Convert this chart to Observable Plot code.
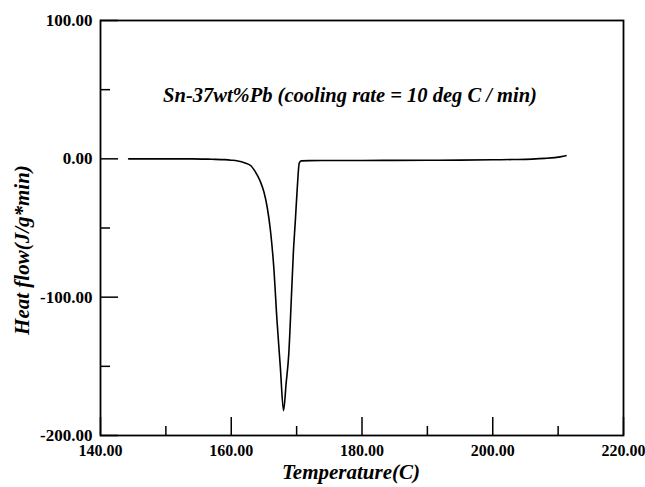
<!DOCTYPE html>
<html>
<head>
<meta charset="utf-8">
<script src="https://cdn.jsdelivr.net/npm/d3@7"></script>
<script src="https://cdn.jsdelivr.net/npm/@observablehq/plot@0.6"></script>
<style>
  html, body { margin: 0; padding: 0; background: #fff; }
  svg text { font-family: "Liberation Serif", serif !important; }
</style>
</head>
<body>
<div id="chart"></div>
<script>
// Temperature (C) and heat flow (J/g*min)
const temperature = [144.3, 146, 150, 154, 157, 159, 160, 161, 162, 163, 163.5, 164, 164.5, 165, 165.5, 166, 166.5, 167, 167.5, 168.0, 168.4, 168.8, 169.2, 169.5, 169.8, 170.1, 170.4, 170.7, 172, 175, 180, 185, 190, 195, 200, 203, 206, 208, 209.5, 210.5, 211.2];
const heatFlow    = [0, 0, 0, 0, -0.3, -0.6, -1, -1.6, -2.8, -5, -8, -12, -17, -24, -35, -52, -78, -117, -150, -182, -162, -141, -100, -68, -45, -21, -3, -1.5, -1.3, -1.2, -1.2, -1.1, -1, -0.9, -0.7, -0.5, -0.2, 0.3, 0.9, 1.6, 2.3];

const xMajor = [140, 160, 180, 200, 220];
const xMinor = [150, 170, 190, 210];
const yMajor = [100, 0, -100, -200];
const yMinor = [50, -50, -150];

const title = "Sn-37wt%Pb (cooling rate = 10 deg C / min)";
const xLabel = "Temperature(C)";
const yLabel = "Heat flow(J/g*min)";

const data = temperature.map((t, i) => ({t, h: heatFlow[i]}));
const serif = "Liberation Serif";

const chart = Plot.plot({
  width: 645,
  height: 487,
  marginLeft: 100,
  marginRight: 22,
  marginTop: 20,
  marginBottom: 52,
  style: {fontFamily: serif, fontSize: "17px", fontWeight: "bold", color: "#000", background: "#fff", overflow: "visible"},
  x: {domain: [140, 220]},
  y: {domain: [-200, 100]},
  marks: [
    Plot.line(data, {x: "t", y: "h", stroke: "#000", strokeWidth: 1.6, curve: "monotone-x"}),
    Plot.frame({stroke: "#000", strokeWidth: 1.8}),
    Plot.axisX(xMajor, {tickSize: -18, tickPadding: 27, strokeWidth: 1.5, tickFormat: d => d.toFixed(2), label: null, fontFamily: serif, fontWeight: "bold", fontSize: 16}),
    Plot.axisX(xMinor, {tickSize: -9, tickFormat: () => "", strokeWidth: 1.5, label: null}),
    Plot.axisY(yMajor, {tickSize: -18, tickPadding: 26, strokeWidth: 1.5, tickFormat: d => d.toFixed(2), label: null, fontFamily: serif, fontWeight: "bold", fontSize: 17}),
    Plot.axisY(yMinor, {tickSize: -10, tickFormat: () => "", strokeWidth: 1.5, label: null}),
    Plot.text([title], {frameAnchor: "top", dy: 67, dx: -12, text: d => d, fontFamily: serif, fontSize: 20.5, fontStyle: "italic", fontWeight: "bold"}),
    Plot.text([xLabel], {frameAnchor: "bottom", dy: 43, dx: -11, text: d => d, fontFamily: serif, fontSize: 21, fontStyle: "italic", fontWeight: "bold"}),
    Plot.text([yLabel], {frameAnchor: "left", textAnchor: "middle", dx: -78, dy: 22, rotate: -90, text: d => d, fontFamily: serif, fontSize: 21, fontStyle: "italic", fontWeight: "bold"})
  ]
});
document.getElementById("chart").appendChild(chart);
</script>
</body>
</html>
